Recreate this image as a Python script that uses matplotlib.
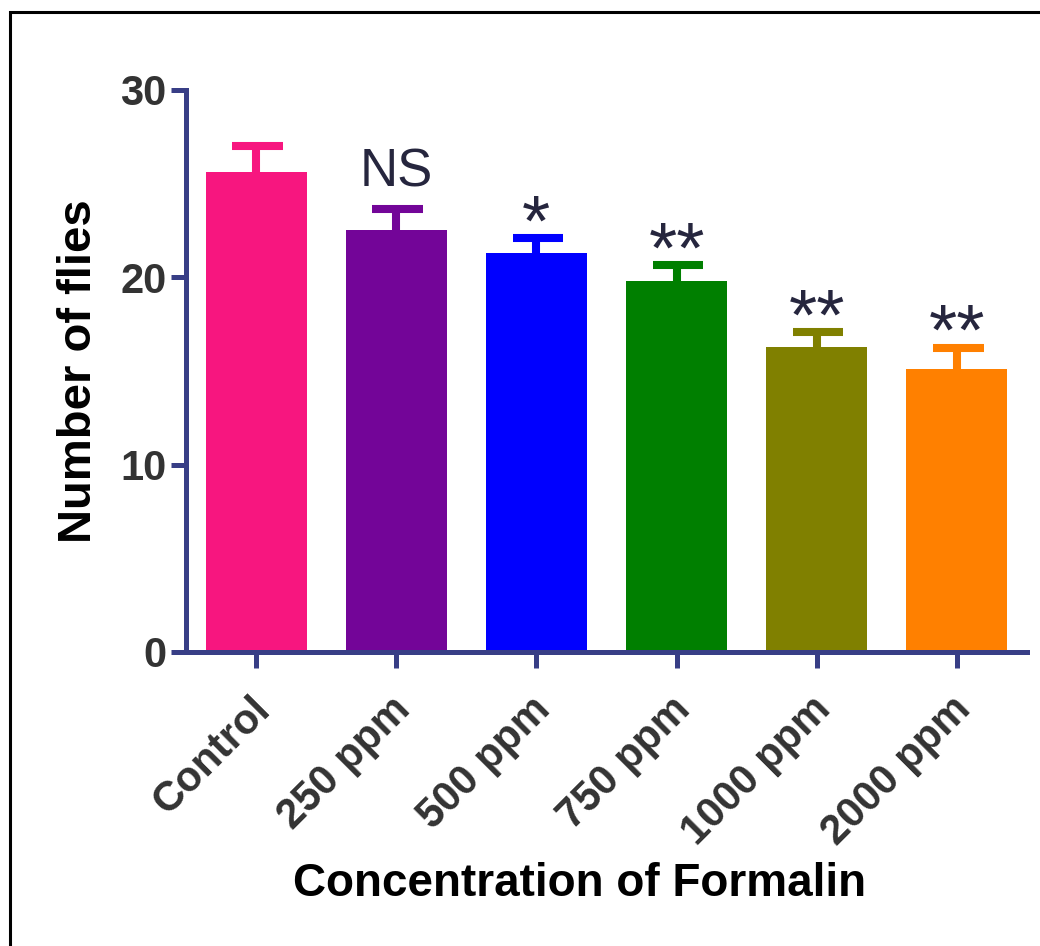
import matplotlib
matplotlib.use("Agg")
import matplotlib.pyplot as plt
from matplotlib.patches import Rectangle
from matplotlib.transforms import ScaledTranslation
import numpy as np

plt.rcParams['font.family'] = ['Liberation Sans', 'DejaVu Sans']

# data
groups = ["Control", "250 ppm", "500 ppm", "750 ppm", "1000 ppm", "2000 ppm"]
means = [25.6, 22.5, 21.3, 19.8, 16.3, 15.1]
sem = [1.4, 1.15, 0.8, 0.85, 0.8, 1.15]
signif = ["", "NS", "*", "**", "**", "**"]
colors = ["#F7167F", "#730598", "#0000FF", "#007F00", "#808000", "#FF8000"]

axis_col = "#383E86"
text_col = "#26263E"

fig = plt.figure(figsize=(10.4, 9.46), dpi=100)
ax = fig.add_axes([0.1788, 0.3108, 0.8087, 0.5941])

x = np.arange(len(groups))
tops = np.array(means) + np.array(sem)
ax.bar(x, means, width=0.72, color=colors, zorder=2)
# one-sided error bars (upper only)
ax.vlines(x, means, tops, colors=colors, linewidth=5.8, zorder=1)
ax.hlines(tops, x - 0.17, x + 0.19, colors=colors, linewidth=5.8, zorder=1)

for i in range(len(groups)):
    if signif[i] == "NS":
        ax.text(x[i], tops[i] + 1.2, signif[i], ha='center', va='baseline',
                fontsize=38, color=text_col)
    elif signif[i]:
        ax.text(x[i], tops[i] - 0.4, signif[i], ha='center', va='baseline',
                fontsize=52, color=text_col)

ax.set_xlim(-0.5, 5.5)
ax.set_ylim(0, 30)
ax.set_yticks([0, 10, 20, 30])
ax.set_xticks(x)
ax.set_xticklabels([])
# rotated category labels, placed under each tick
lab_tr = ax.get_xaxis_transform() + ScaledTranslation(-6 / 100, -37 / 100,
                                                      fig.dpi_scale_trans)
for xi, g in zip(x, groups):
    ax.text(xi, 0, g, transform=lab_tr, rotation=45, ha='right', va='top',
            rotation_mode='anchor', fontsize=30, fontweight='bold',
            color='#333333')
for lab in ax.get_yticklabels():
    lab.set_fontsize(30)
    lab.set_fontweight('bold')
    lab.set_color('#333333')

for s in ['top', 'right']:
    ax.spines[s].set_visible(False)
for s in ['left', 'bottom']:
    ax.spines[s].set_color(axis_col)
    ax.spines[s].set_linewidth(3.6)
ax.tick_params(axis='y', length=11, width=3.6, color=axis_col, pad=3)
ax.tick_params(axis='x', length=11.5, width=3.6, color=axis_col)

ax.set_ylabel("Number of flies", fontsize=34, fontweight='bold')
ax.yaxis.set_label_coords(-0.127, 0.5)
ax.yaxis.label.set_va('center')
ax.set_xlabel("Concentration of Formalin", fontsize=33, fontweight='bold')
ax.xaxis.set_label_coords(0.4685, -0.413)
ax.xaxis.label.set_va('center')

# outer frame
fig.patches.append(Rectangle((10 / 1040, -0.05), 1.1, (946 - 12) / 946 + 0.05,
                             transform=fig.transFigure, fill=False,
                             edgecolor='black', linewidth=2.2))

fig.savefig("out.png", dpi=100)
